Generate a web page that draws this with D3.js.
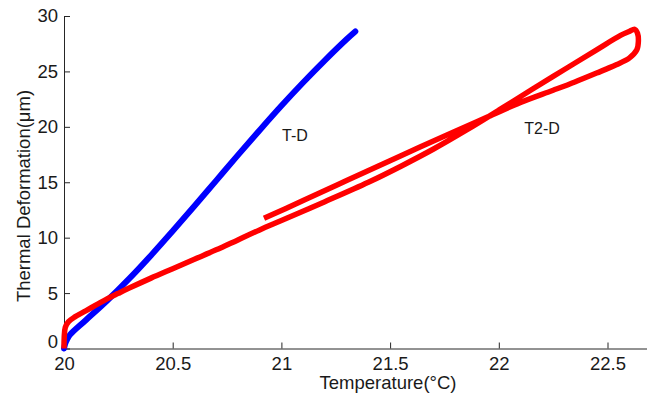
<!DOCTYPE html>
<html>
<head>
<meta charset="utf-8">
<script src="https://cdn.jsdelivr.net/npm/d3@7"></script>
<style>
  body { margin: 0; background: #fff; }
  svg { display: block; font-family: "Liberation Sans", Arial, sans-serif; }
</style>
</head>
<body>
<div id="chart"></div>
<script>
let width = 647;
let height = 396;
let margin = {top: 16, right: 0, bottom: 47.5, left: 64};

// T-D curve (blue)
var tdTemp = [20.000, 20.005, 20.015, 20.028, 20.1, 20.2, 20.3, 20.4, 20.5, 20.6, 20.7, 20.8, 20.9, 21.0, 21.1, 21.2, 21.3, 21.34];
var tdDef  = [0.0, 0.4, 0.85, 1.25, 2.55, 4.35, 6.3, 8.4, 10.6, 12.85, 15.15, 17.45, 19.7, 21.9, 24.0, 26.0, 27.9, 28.6];

// T2-D curve (red): heating up to the tip, then cooling back
var t2dTemp = [20.000, 20.001, 20.006, 20.02, 20.05, 20.1, 20.15, 20.2, 20.25, 20.3, 20.4, 20.5, 20.6, 20.7, 20.8, 20.9, 21.0,
               21.2, 21.4, 21.55, 21.7, 21.85, 22.0, 22.15, 22.3, 22.45, 22.56, 22.6, 22.625, 22.638, 22.642, 22.635,
               22.6, 22.54, 22.45, 22.35, 22.25, 22.1, 21.95, 21.8, 21.55, 21.3, 21.1, 21.0, 20.92];
var t2dDef  = [0.0, 1.0, 1.9, 2.4, 2.85, 3.4, 3.95, 4.5, 4.98, 5.45, 6.35, 7.2, 8.05, 8.9, 9.8, 10.7, 11.55,
               13.25, 15.0, 16.45, 18.0, 19.7, 21.5, 23.35, 25.15, 26.95, 28.25, 28.6, 28.8, 28.45, 27.7, 26.95,
               26.2, 25.6, 24.85, 24.05, 23.3, 22.2, 20.9, 19.6, 17.4, 15.15, 13.35, 12.45, 11.75];

var xTicks = [20, 20.5, 21, 21.5, 22, 22.5];
var yTicks = [0, 5, 10, 15, 20, 25, 30];

let svg = d3.select("#chart")
    .append("svg")
    .attr("width", width)
    .attr("height", height);

let x = d3.scaleLinear()
    .domain([20, 22.7])
    .range([margin.left, margin.left + 2.7 * 217.4]);

let y = d3.scaleLinear()
    .domain([0, 30])
    .range([height - margin.bottom, margin.top]);

let line = d3.line()
    .x(d => x(d[0]))
    .y(d => y(d[1]))
    .curve(d3.curveCatmullRom.alpha(0.5));

let tdData = tdTemp.map((t, i) => [t, tdDef[i]]);
let t2dData = t2dTemp.map((t, i) => [t, t2dDef[i]]);

// axes (ticks pointing inward, MATLAB style)
const xAxis = svg.append("g")
    .attr("transform", `translate(0,${y(0)})`)
    .call(d3.axisBottom(x).tickValues(xTicks).tickFormat(d3.format("")).tickSizeInner(-6).tickSizeOuter(0).tickPadding(8));

const yAxis = svg.append("g")
    .attr("transform", `translate(${x(20)},0)`)
    .call(d3.axisLeft(y).tickValues(yTicks).tickSizeInner(-6).tickSizeOuter(0).tickPadding(6));

[xAxis, yAxis].forEach(a => {
    a.select(".domain").attr("stroke", "#262626").attr("stroke-width", 1);
    a.selectAll(".tick line").attr("stroke", "#262626");
    a.selectAll(".tick text")
        .attr("fill", "#1a1a1a")
        .style("font-size", "18.5px")
        .style("font-family", "'Liberation Sans', Arial, sans-serif");
});
// the zero label sits a little higher in the original
yAxis.selectAll(".tick").filter(d => d === 0).select("text").attr("dy", "-0.05em");

svg.append("path")
    .datum(tdData)
    .attr("fill", "none")
    .attr("stroke", "#0000ff")
    .attr("stroke-width", 6)
    .attr("stroke-linejoin", "round")
    .attr("stroke-linecap", "round")
    .attr("d", line);

svg.append("path")
    .datum(t2dData)
    .attr("fill", "none")
    .attr("stroke", "#ff0000")
    .attr("stroke-width", 5.5)
    .attr("stroke-linejoin", "round")
    .attr("stroke-linecap", "butt")
    .attr("d", line);

// curve labels
svg.append("text")
    .attr("x", 295).attr("y", 141)
    .attr("text-anchor", "middle")
    .style("font-size", "16px")
    .attr("fill", "#1a1a1a")
    .text("T-D");

svg.append("text")
    .attr("x", 542).attr("y", 134)
    .attr("text-anchor", "middle")
    .style("font-size", "16px")
    .attr("fill", "#1a1a1a")
    .text("T2-D");

// axis titles
svg.append("text")
    .attr("x", 388).attr("y", 389)
    .attr("text-anchor", "middle")
    .style("font-size", "18.5px")
    .attr("fill", "#1a1a1a")
    .text("Temperature(°C)");

svg.append("text")
    .attr("transform", `translate(30,196) rotate(-90)`)
    .attr("text-anchor", "middle")
    .style("font-size", "18.5px")
    .attr("fill", "#1a1a1a")
    .text("Thermal Deformation(μm)");
</script>
</body>
</html>
